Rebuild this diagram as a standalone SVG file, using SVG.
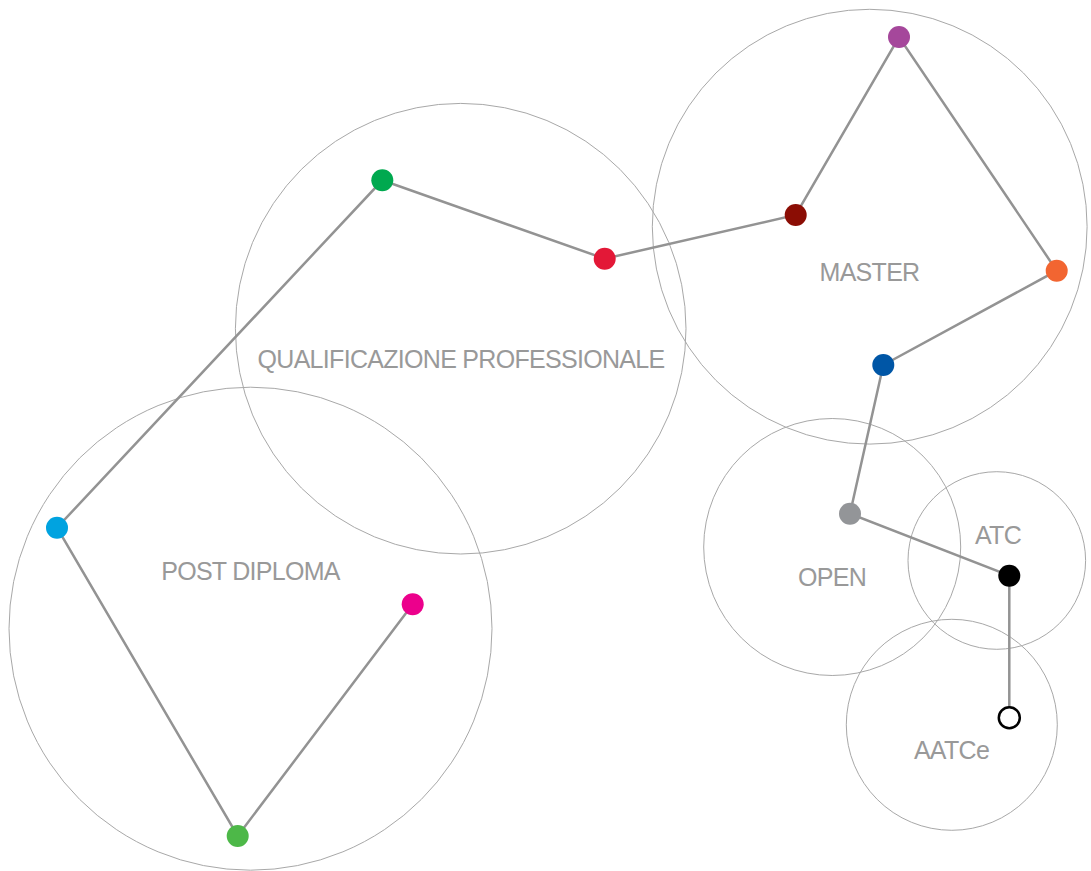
<svg xmlns="http://www.w3.org/2000/svg" width="1091" height="871" viewBox="0 0 1091 871">
<style>
.area{fill:none;stroke:#a8a8a8;stroke-width:1}
.lbl{font-family:"Liberation Sans",Arial,sans-serif;font-size:25px;fill:#999999;text-anchor:middle;letter-spacing:-0.7px}
.edge{stroke:#939393;stroke-width:2.5;fill:none;stroke-linecap:round}
.dot{stroke:none}
</style>
<rect width="1091" height="871" fill="#ffffff"/>
<g id="areas">
<g id="area-qualificazione"><circle class="area" cx="460.7" cy="328.7" r="225.3"/><text class="lbl" x="461" y="367.5">QUALIFICAZIONE PROFESSIONALE</text></g>
<g id="area-master"><circle class="area" cx="869.7" cy="226.7" r="217.4"/><text class="lbl" x="869.5" y="280.5">MASTER</text></g>
<g id="area-postdiploma"><circle class="area" cx="250.5" cy="628.7" r="241.5"/><text class="lbl" x="250.5" y="580">POST DIPLOMA</text></g>
<g id="area-open"><circle class="area" cx="832.2" cy="547" r="128.5"/><text class="lbl" x="832" y="585.5">OPEN</text></g>
<g id="area-atc"><circle class="area" cx="996.8" cy="560.5" r="88.8"/><text class="lbl" x="998" y="544.3">ATC</text></g>
<g id="area-aatce"><circle class="area" cx="951.8" cy="724.8" r="105.5"/><text class="lbl" x="951.5" y="759">AATCe</text></g>
</g>
<g id="connectors">
<polyline class="edge" points="412.7,604.3 237.7,836 57,527.7 382.3,180.3 604.7,258.7 795.7,215 899,37 1056.7,270.7 883.3,365 850,513.7 1009.3,575.7 1009.3,717.7"/>
</g>
<g id="node-magenta"><circle class="dot" cx="412.7" cy="604.3" r="11" fill="#ec008c"/></g>
<g id="node-lightgreen"><circle class="dot" cx="237.7" cy="836" r="11" fill="#4db848"/></g>
<g id="node-cyan"><circle class="dot" cx="57" cy="527.7" r="11" fill="#00a3e0"/></g>
<g id="node-green"><circle class="dot" cx="382.3" cy="180.3" r="11" fill="#00a94f"/></g>
<g id="node-red"><circle class="dot" cx="604.7" cy="258.7" r="11" fill="#e31837"/></g>
<g id="node-darkred"><circle class="dot" cx="795.7" cy="215" r="11" fill="#8b0d04"/></g>
<g id="node-purple"><circle class="dot" cx="899" cy="37" r="11" fill="#a5479b"/></g>
<g id="node-orange"><circle class="dot" cx="1056.7" cy="270.7" r="11" fill="#f26531"/></g>
<g id="node-blue"><circle class="dot" cx="883.3" cy="365" r="11" fill="#0056a6"/></g>
<g id="node-gray"><circle class="dot" cx="850" cy="513.7" r="11" fill="#939598"/></g>
<g id="node-black"><circle class="dot" cx="1009.3" cy="575.7" r="11" fill="#000000"/></g>
<g id="node-white"><circle cx="1009.3" cy="717.7" r="10.5" fill="#ffffff" stroke="#000000" stroke-width="2.5"/></g>
</svg>
